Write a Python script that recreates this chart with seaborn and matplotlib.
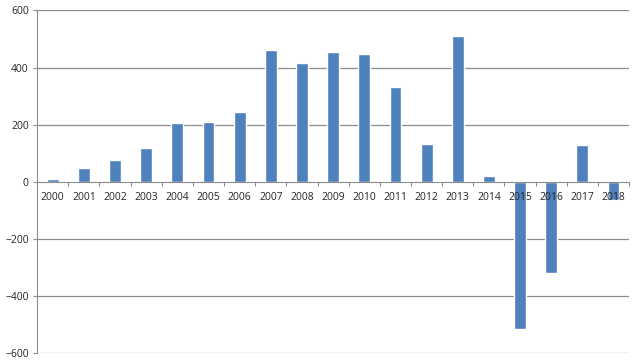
import matplotlib
matplotlib.use('Agg')
import matplotlib.pyplot as plt
import seaborn as sns
import numpy as np

years = [str(y) for y in range(2000, 2019)]
values = [10, 47, 75, 117, 206, 209, 246, 462, 417, 453, 448, 332, 132, 510, 21, -514, -319, 128, -65]

sns.set_style('white')
plt.rcParams['font.family'] = ['Open Sans', 'DejaVu Sans']

fig = plt.figure(figsize=(6.4, 3.62), dpi=100)
ax = fig.add_axes([0.058, 0.024, 0.925, 0.947])

for y in [-600, -400, -200, 200, 400, 600]:
    ax.axhline(y, color='#8c8c8c', lw=0.9, zorder=0)

sns.barplot(x=years, y=values, color='#4F81BD', saturation=1, width=0.38, ax=ax, zorder=1)

ax.set_ylim(-600, 600)
ax.set_xlim(-0.5, len(years) - 0.5)
ax.set_yticks(range(-600, 601, 200))
ax.tick_params(axis='y', labelsize=7.5, length=3, width=0.8, color='#8c8c8c', left=True, pad=3)

ax.spines['top'].set_visible(False)
ax.spines['right'].set_visible(False)
ax.spines['left'].set_color('#8c8c8c')
ax.spines['bottom'].set_color('#8c8c8c')
ax.spines['bottom'].set_position(('data', 0))
ax.spines['bottom'].set_zorder(3)

ax.set_xticks(np.arange(len(years)))
ax.set_xticklabels(years)
ax.set_xticks(np.arange(len(years)) + 0.5, minor=True)
ax.tick_params(axis='x', which='major', length=0, labelsize=7.5, pad=7)
ax.tick_params(axis='x', which='minor', length=3, width=0.8, color='#8c8c8c', bottom=True)
ax.xaxis.set_zorder(3)
ax.set_xlabel('')
ax.set_ylabel('')

plt.savefig('out.png', dpi=100)
plt.close()
